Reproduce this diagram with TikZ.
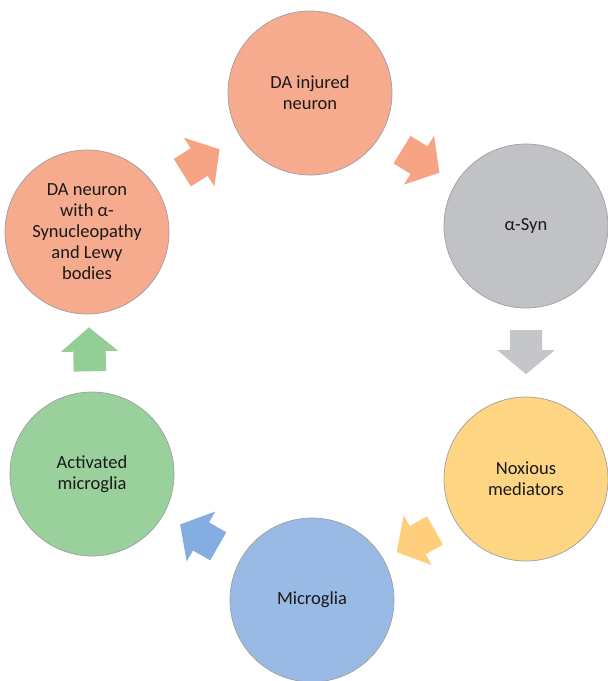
\documentclass[tikz,border=0pt]{standalone}
\usepackage{fontspec}
\setmainfont{Carlito}
\usepackage{xcolor}
\definecolor{salmon_fill}{RGB}{246,170,142}
\definecolor{salmon_arrow}{RGB}{247,164,132}
\definecolor{grey_fill}{RGB}{192,194,198}
\definecolor{grey_arrow}{RGB}{196,198,202}
\definecolor{yellow_fill}{RGB}{254,213,130}
\definecolor{yellow_arrow}{RGB}{254,206,124}
\definecolor{blue_fill}{RGB}{152,186,228}
\definecolor{blue_arrow}{RGB}{132,174,226}
\definecolor{green_fill}{RGB}{154,208,156}
\definecolor{green_arrow}{RGB}{146,206,150}
\usetikzlibrary{shapes.arrows}

\tikzset{
  stage/.style={circle, draw=gray!75, line width=0.7pt, minimum size=164pt,
    align=center, text=black!90, font=\fontsize{18.5}{21}\selectfont},
  flow/.style={single arrow, sloped, allow upside down, draw=none, pos=0.46,
    inner xsep=0pt, inner ysep=16pt,
    minimum height=44pt, minimum width=57pt,
    single arrow head extend=12.5pt, single arrow tip angle=100}
}

\begin{document}
\begin{tikzpicture}[x=1pt, y=-1pt]
\useasboundingbox (0,0) rectangle (608,681);

% the six stages of the cycle
\node[stage, fill=salmon_fill] (dainj) at (310,93) {DA injured\\neuron};
\node[stage, fill=grey_fill] (asyn) at (526,226) {α-Syn};
\node[stage, fill=yellow_fill] (nox) at (526,479) {Noxious\\mediators};
\node[stage, fill=blue_fill] (micro) at (312,600) {Microglia};
\node[stage, fill=green_fill] (actmicro) at (92,474) {Activated\\microglia};
\node[stage, fill=salmon_fill] (dalewy) at (87,232) {DA neuron\\with α-\\Synucleopathy\\and Lewy\\bodies};

% block arrows half way between the stages
\path (dalewy) -- node[flow, fill=salmon_arrow] (a1) {} (dainj);
\path (dainj) -- node[flow, fill=salmon_arrow] (a2) {} (asyn);
\path (asyn) -- node[flow, fill=grey_arrow, pos=0.42] (a3) {} (nox);
\path (nox) -- node[flow, fill=yellow_arrow] (a4) {} (micro);
\path (micro) -- node[flow, fill=blue_arrow] (a5) {} (actmicro);
\path (actmicro) -- node[flow, fill=green_arrow] (a6) {} (dalewy);

\end{tikzpicture}
\end{document}
